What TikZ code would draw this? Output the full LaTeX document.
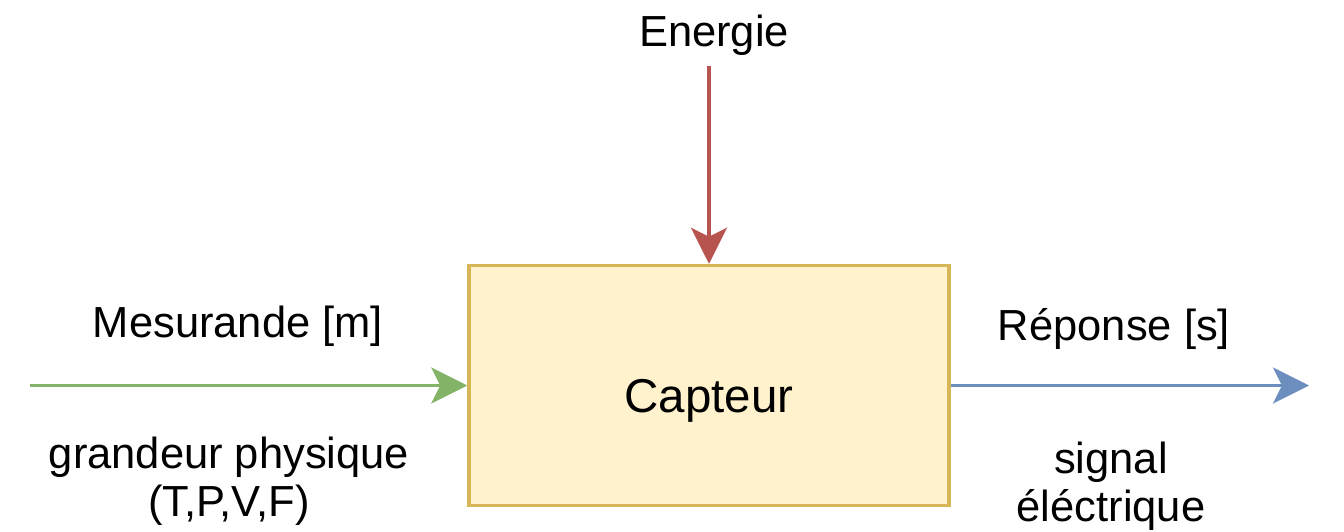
\documentclass[tikz,border=0pt]{standalone}
\usepackage{fontspec}
\setmainfont{Liberation Sans}
\usetikzlibrary{arrows.meta}
\definecolor{greenline}{HTML}{82B366}
\definecolor{redline}{HTML}{B85450}
\definecolor{blueline}{HTML}{6C8EBF}
\definecolor{boxfill}{HTML}{FFF2CC}
\definecolor{boxdraw}{HTML}{D6B656}
\tikzset{
  lbl/.style={inner sep=0pt, anchor=base, align=center, font=\fontsize{43.5}{48}\selectfont},
  sensorbox/.style={draw=boxdraw, fill=boxfill, line width=3.5pt, minimum width=480pt, minimum height=240pt, inner sep=0pt, font=\fontsize{47.5}{52}\selectfont},
  flow/.style={line width=3.6pt, -{Stealth[length=36pt, width=36pt, inset=9pt]}}
}
\begin{document}
\begin{tikzpicture}[x=1pt,y=-1pt]
\useasboundingbox (0,0) rectangle (1344,532);
\node[sensorbox] (box) at (709,385.5) {\raisebox{-26.5pt}[0pt][0pt]{Capteur}};
\coordinate (ein) at (709,66);
\coordinate (min) at (30,385.5);
\coordinate (sout) at (1309,385.5);
\draw[flow, draw=redline, fill=redline] (ein) -- (box.north);
\draw[flow, draw=greenline, fill=greenline] (min) -- (box.west);
\draw[flow, draw=blueline, fill=blueline] (box.east) -- (sout);
\node[lbl] (energie) at (714,47) {Energie};
\node[lbl] (mes) at (238,337) {Mesurande [m]};
\node[lbl] (grand) at (229,516) {grandeur physique\\(T,P,V,F)};
\node[lbl] (rep) at (1114,340) {Réponse [s]};
\node[lbl] (sig) at (1111,521) {signal\\éléctrique};
\end{tikzpicture}
\end{document}
